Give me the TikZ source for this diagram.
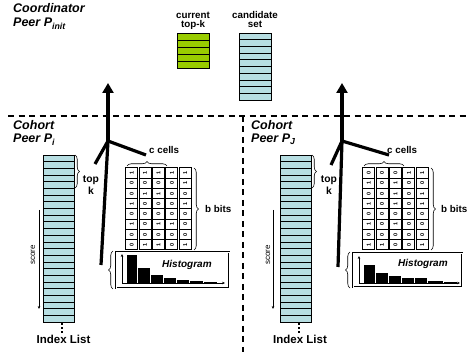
\documentclass[tikz,border=0pt]{standalone}
\usepackage{fontspec}
\setmainfont{Liberation Sans}
\usetikzlibrary{decorations.pathreplacing,arrows.meta}

\definecolor{listblue}{RGB}{183,222,226}
\definecolor{topgreen}{RGB}{153,204,0}

% a column of stacked score entries
\tikzset{
  indexlist/.pic={
    \fill[listblue] (0,0) rectangle (31,167);
    \foreach \i in {1,...,24} \draw[line width=0.6pt] (0,\i*6.68) -- (31,\i*6.68);
    \draw[line width=0.9pt] (0,0) rectangle (31,167);
  },
}

% bit matrix: x0, y0, rows of bits
\newcommand\bitmatrix[3]{%
  \foreach \c in {0,...,4} {
    \draw[line width=1pt,fill=white] (#1+\c*13.4+0.7,#2) rectangle ++(12,82);
    \foreach \r in {1,...,7}
      \draw[line width=1pt] (#1+\c*13.4+0.7,#2+\r*10.25) -- ++(12,0);
  }
  \foreach \rowbits [count=\r from 0] in {#3} {
    \foreach \b [count=\c from 0] in \rowbits {
      \node[bit] at (#1+\c*13.4+6.7,#2+\r*10.25+5.1) {\b};
    }
  }
}

\begin{document}
\begin{tikzpicture}[x=1pt,y=-1pt,
  lbl/.style={font=\bfseries\itshape\fontsize{12.5}{14}\selectfont, inner sep=0pt, anchor=base west},
  small/.style={font=\bfseries\fontsize{9.8}{11}\selectfont, inner sep=0pt, anchor=base},
  listname/.style={font=\bfseries\fontsize{11.5}{13}\selectfont, inner sep=0pt, anchor=base},
  histname/.style={font=\bfseries\itshape\fontsize{10}{12}\selectfont, inner sep=0pt, anchor=base west},
  scorelbl/.style={font=\fontsize{8}{9}\selectfont, inner sep=0pt, rotate=90},
  sep/.style={line width=1.6pt, dash pattern=on 6pt off 4.5pt},
  flow/.style={line width=3.2pt},
  up/.style={flow, -{Triangle[length=10pt,width=11pt]}},
  brc/.style={decorate, decoration={brace, amplitude=4.5pt}, line width=0.6pt},
  bit/.style={font=\bfseries\fontsize{5.5}{5.5}\selectfont, inner sep=0pt, rotate=90},
  axis/.style={line width=0.6pt, -{Stealth[length=3pt,width=2.6pt]}},
  bar/.style={fill=black},
  dot/.style={fill=black, minimum size=1.8pt, inner sep=0pt},
]
\useasboundingbox (0,0) rectangle (469,352);

% ---------- separators ----------
\draw[sep] (8,116) -- (469,116);
\draw[sep] (243,116) -- (243,352);

% ---------- coordinator ----------
\node[lbl] (coord) at (13,13) {Coordinator};
\node[lbl] (pinit) at (13,27) {Peer P\textsubscript{init}};

\node[small] (curlbl) at (193,19) {current};
\node[small] (toplbl) at (193,28) {top-k};
\node[small] (candlbl) at (255,19) {candidate};
\node[small] (setlbl) at (255,28) {set};

\fill[topgreen] (177,33) rectangle (209,68);
\foreach \i in {1,...,4} \draw[line width=0.9pt] (177,33+\i*7) -- (209,33+\i*7);
\draw[line width=0.9pt] (177,33) rectangle (209,68);

\fill[listblue] (239,33) rectangle (271,100);
\foreach \i in {1,...,9} \draw[line width=0.7pt] (239,33+\i*6.7) -- (271,33+\i*6.7);
\draw[line width=0.9pt] (239,33) rectangle (271,100);

% ---------- cohort peer P_i ----------
\node[lbl] (cohl) at (13,130) {Cohort};
\node[lbl] (peerl) at (13,143) {Peer P\textsubscript{i}};

\pic at (43,155) {indexlist};
\draw[brc] (75,155) -- (75,188);
\node[small,font=\bfseries\fontsize{10.3}{12}\selectfont] (topl) at (91,183) {top};
\node[small,font=\bfseries\fontsize{10.3}{12}\selectfont] (kl) at (91,195) {k};
\draw[axis] (39,210) -- (39,309);
\node[scorelbl] (scl) at (33,255) {score};
\node[dot] (d1l) at (62,324) {};
\node[dot] (d2l) at (62,328) {};
\node[dot] (d3l) at (62,332) {};
\node[listname] (ill) at (63.5,344) {Index List};

\bitmatrix{125}{168}{{1,1,1,1,1},{0,0,0,0,1},{0,1,1,0,0},{1,0,0,0,1},{0,0,0,0,0},{1,0,1,1,0},{0,0,0,0,0},{0,1,1,0,1}}
\draw[brc] (127,166) -- (167,166);
\node[small,anchor=base west] (ccl) at (149,154) {c cells};
\draw[brc] (194,168) -- (194,250);
\node[small,anchor=base west] (bbl) at (205,213) {b bits};

\draw[line width=0.7pt, double, double distance=0.9pt] (116,252) rectangle (229,288);
\draw[brc] (113,289) -- (113,251);
\draw[axis] (122,283) -- (122,254);
\draw[axis] (122,283) -- (225,283);
\foreach \xa/\xb/\t in {126/137/255,137/150/268,150/163/275,163/176/278,176/189/280,189/203/281,203/217/281.6}
  \fill[bar] (\xa+0.5,\t) rectangle (\xb-0.5,283);
\node[histname] (hl) at (162,268) {Histogram};

\coordinate (jl) at (108,141);
\coordinate (tipl) at (108,83);
\coordinate (tkl) at (95,164);
\coordinate (cl) at (146,155);
\coordinate (hbl) at (101,265);
\draw[up] (jl) -- (tipl);
\draw[flow] (jl) -- (tkl);
\draw[flow] (jl) -- (cl);
\draw[flow] (jl) -- (hbl);

% ---------- cohort peer P_J ----------
\node[lbl] (cohr) at (251,130) {Cohort};
\node[lbl] (peerr) at (251,143) {Peer P\textsubscript{J}};

\pic at (280,155) {indexlist};
\draw[brc] (312,155) -- (312,188);
\node[small,font=\bfseries\fontsize{10.3}{12}\selectfont] (topr) at (329,183) {top};
\node[small,font=\bfseries\fontsize{10.3}{12}\selectfont] (kr) at (329,195) {k};
\draw[axis] (273,210) -- (273,309);
\node[scorelbl] (scr) at (268,255) {score};
\node[dot] (d1r) at (299,324) {};
\node[dot] (d2r) at (299,328) {};
\node[dot] (d3r) at (299,332) {};
\node[listname] (ilr) at (300,344) {Index List};

\bitmatrix{362}{168}{{0,0,0,1,1},{1,0,1,0,0},{0,0,1,0,1},{1,0,1,0,1},{0,0,0,0,0},{1,0,1,0,0},{0,0,0,0,0},{1,1,0,0,1}}
\draw[brc] (364,166) -- (404,166);
\node[small,anchor=base west] (ccr) at (387,154) {c cells};
\draw[brc] (431,168) -- (431,250);
\node[small,anchor=base west] (bbr) at (441,213) {b bits};

\draw[line width=0.7pt, double, double distance=0.9pt] (353,253) rectangle (462,287);
\draw[brc] (350,288) -- (350,252);
\draw[axis] (359,283) -- (359,256);
\draw[axis] (359,283) -- (460,283);
\foreach \xa/\xb/\t in {363/375/265,375/388/273,388/401/276.5,401/414/278,414/427/278,427/443/281,443/457/281.6}
  \fill[bar] (\xa+0.5,\t) rectangle (\xb-0.5,283);
\node[histname] (hr) at (398,267) {Histogram};

\coordinate (jr) at (342,141);
\coordinate (tipr) at (342,83);
\coordinate (tkr) at (331,165);
\coordinate (cr) at (389,155);
\coordinate (hbr) at (338,267);
\draw[up] (jr) -- (tipr);
\draw[flow] (jr) -- (tkr);
\draw[flow] (jr) -- (cr);
\draw[flow] (jr) -- (hbr);
\end{tikzpicture}
\end{document}
